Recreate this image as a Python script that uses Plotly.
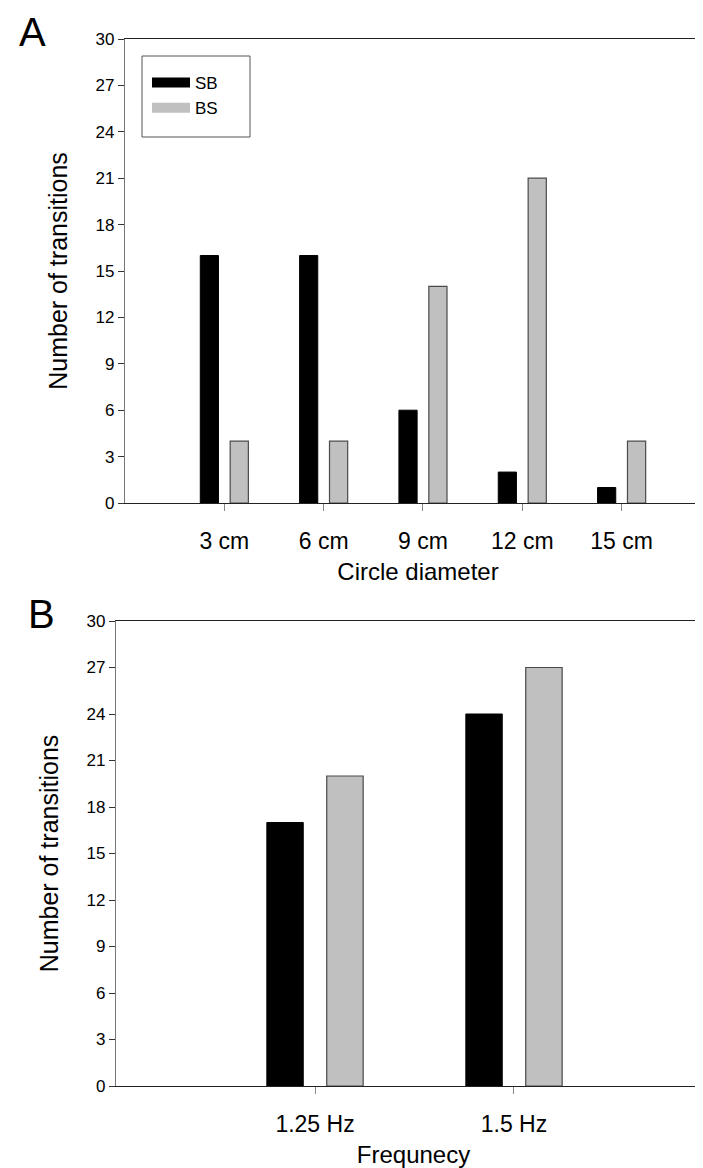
import plotly.graph_objects as go

# ---- data ----
diam_labels = ["3 cm", "6 cm", "9 cm", "12 cm", "15 cm"]
diam_sb = [16, 16, 6, 2, 1]
diam_bs = [4, 4, 14, 21, 4]

freq_labels = ["1.25 Hz", "1.5 Hz"]
freq_sb = [17, 24]
freq_bs = [20, 27]

y_ticks = list(range(0, 31, 3))

W, H = 703, 1168
FONT = "Liberation Sans, Arial, sans-serif"
SB_COLOR = "#000000"
BS_COLOR = "#c0c0c0"
BS_EDGE = "#4a4a4a"


def px(x):
    return x / W


def py(y):
    return 1 - y / H


fig = go.Figure()

# Panel A bars
fig.add_trace(go.Bar(x=diam_labels, y=diam_sb, name="SB", marker=dict(color=SB_COLOR, line=dict(color="#000", width=1)),
                     xaxis="x", yaxis="y", showlegend=False))
fig.add_trace(go.Bar(x=diam_labels, y=diam_bs, name="BS", marker=dict(color=BS_COLOR, line=dict(color=BS_EDGE, width=1.2)),
                     xaxis="x", yaxis="y", showlegend=False))
# Panel B bars
fig.add_trace(go.Bar(x=freq_labels, y=freq_sb, name="SB", marker=dict(color=SB_COLOR, line=dict(color="#000", width=1)),
                     xaxis="x2", yaxis="y2", showlegend=False))
fig.add_trace(go.Bar(x=freq_labels, y=freq_bs, name="BS", marker=dict(color=BS_COLOR, line=dict(color=BS_EDGE, width=1.2)),
                     xaxis="x2", yaxis="y2", showlegend=False))

# legend entries (wide swatches)
fig.add_trace(go.Scatter(x=[None], y=[None], mode="lines", name="SB",
                         line=dict(color=SB_COLOR, width=13), xaxis="x", yaxis="y"))
fig.add_trace(go.Scatter(x=[None], y=[None], mode="lines", name="BS",
                         line=dict(color=BS_COLOR, width=13), xaxis="x", yaxis="y"))

xcommon = dict(type="category", showline=True, linecolor="#222", linewidth=1, mirror=True,
               ticks="outside", ticklen=7, tickcolor="#888", tickwidth=1,
               tickfont=dict(family=FONT, size=23, color="#000"),
               showgrid=False, zeroline=False, automargin=False, fixedrange=True,
               ticklabelstandoff=10)
ycommon = dict(range=[0, 30], tickvals=y_ticks, showline=True, linecolor="#777", linewidth=1.3,
               ticks="outside", ticklen=6, tickcolor="#333", tickwidth=1,
               tickfont=dict(family=FONT, size=17, color="#000"),
               showgrid=False, zeroline=False, automargin=False, fixedrange=True)

fig.update_layout(
    width=W, height=H,
    margin=dict(l=0, r=0, t=0, b=0),
    paper_bgcolor="white", plot_bgcolor="white",
    barmode="group", bargap=0.398, bargroupgap=0.392,
    font=dict(family=FONT, color="#000"),
    xaxis=dict(xcommon, domain=[px(117), 1], range=[-1, 4.9], anchor="y",
               title=dict(text="Circle diameter", font=dict(family=FONT, size=24), standoff=10)),
    yaxis=dict(ycommon, domain=[py(495), py(31)], anchor="x",
               title=dict(text="Number of transitions", font=dict(family=FONT, size=25), standoff=20)),
    xaxis2=dict(xcommon, domain=[px(108), 1], range=[-1, 1.99], anchor="y2",
                title=dict(text="Frequnecy", font=dict(family=FONT, size=24), standoff=10)),
    yaxis2=dict(ycommon, domain=[py(1078), py(613)], anchor="x2",
                title=dict(text="Number of transitions", font=dict(family=FONT, size=25), standoff=20)),
    legend=dict(x=px(139), y=py(57), xanchor="left", yanchor="top",
                bgcolor="rgba(0,0,0,0)", borderwidth=0, itemwidth=38,
                font=dict(family=FONT, size=17, color="#000")),
    showlegend=True,
    shapes=[dict(type="rect", xref="paper", yref="paper",
                 x0=px(134), x1=px(242), y0=py(129), y1=py(48),
                 line=dict(color="#555", width=1), fillcolor="rgba(0,0,0,0)")],
    annotations=[
        dict(text="A", x=px(9), y=py(24), xref="paper", yref="paper", xanchor="left", yanchor="middle",
             showarrow=False, font=dict(family=FONT, size=40, color="#000")),
        dict(text="B", x=px(18), y=py(606), xref="paper", yref="paper", xanchor="left", yanchor="middle",
             showarrow=False, font=dict(family=FONT, size=40, color="#000")),
    ],
)

fig.write_html("out.html")
